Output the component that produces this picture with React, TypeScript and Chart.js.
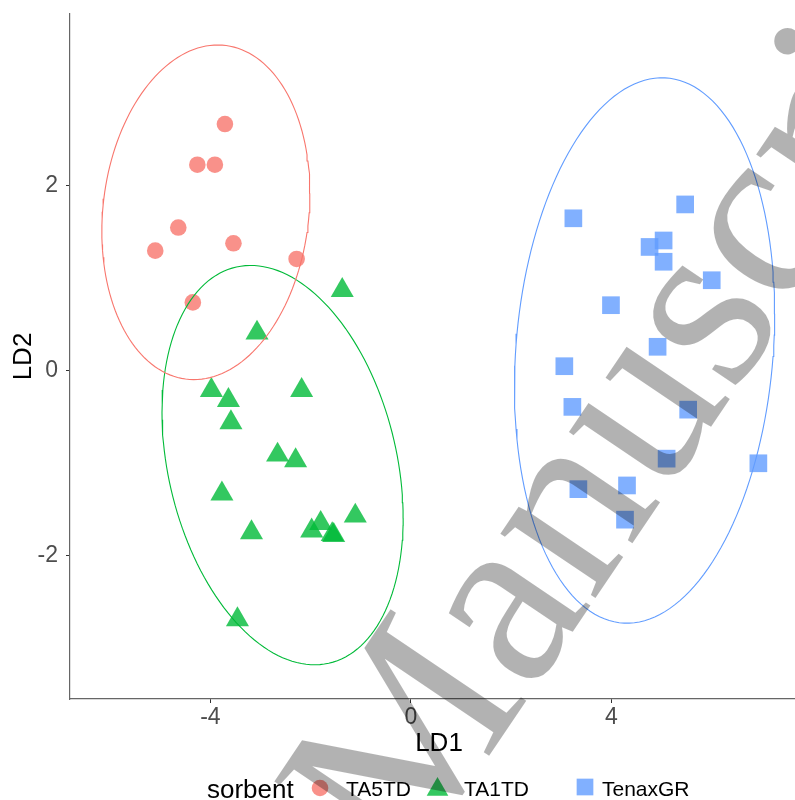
import React, { useEffect, useRef } from 'react';
import { Chart, registerables } from 'chart.js';
import { drawPoint } from 'chart.js/helpers';

Chart.register(...registerables);

// ---------- data ----------
const groupNames = ['TA5TD', 'TA1TD', 'TenaxGR'];
const groupColors = ['#F8766D', '#00BA38', '#619CFF'];
const groupFills = ['rgba(248,118,109,0.8)', 'rgba(0,186,56,0.8)', 'rgba(97,156,255,0.8)'];

const ta5tdX = [-3.71, -4.26, -3.91, -4.64, -5.10, -3.54, -2.28, -4.35];
const ta5tdY = [2.67, 2.23, 2.23, 1.55, 1.30, 1.38, 1.21, 0.74];

const ta1tdX = [-1.37, -3.07, -3.98, -3.64, -2.18, -3.59, -2.66, -2.30, -3.77, -1.11, -3.18, -1.98, -1.80, -1.57, -1.54, -3.46];
const ta1tdY = [0.87, 0.41, -0.21, -0.32, -0.21, -0.56, -0.91, -0.97, -1.33, -1.57, -1.75, -1.73, -1.65, -1.77, -1.78, -2.69];

const tenaxX = [3.24, 5.47, 4.76, 5.04, 5.04, 6.00, 3.99, 4.92, 3.06, 3.22, 5.53, 5.10, 6.93, 3.34, 4.31, 4.27];
const tenaxY = [1.65, 1.80, 1.34, 1.41, 1.18, 0.98, 0.71, 0.26, 0.05, -0.39, -0.42, -0.95, -1.00, -1.28, -1.24, -1.61];

// 95% ellipse parameters (center, half-extent in x, half-extent in y, covariance term)
const ellipseCx = [-4.09, -2.56, 4.66];
const ellipseCy = [1.715, -1.02, 0.22];
const ellipseSx = [2.075, 2.405, 2.595];
const ellipseSy = [1.81, 2.16, 2.95];
const ellipseCxy = [0.43, -1.375, 1.03];

const xTicks = [-4, 0, 4];
const yTicks = [-2, 0, 2];
const xRange = [-6.8, 7.92];
const yRange = [-3.55, 3.86];

const pointStyles = ['circle', 'triangle', 'rect'];
const pointRadii = [8.3, 13.3, 12.5];
const legendTitle = 'sorbent';
const watermarkText = 'Manuscript';

function ellipsePoints(i: number) {
  const mxx = ellipseSx[i] * ellipseSx[i];
  const myy = ellipseSy[i] * ellipseSy[i];
  const mxy = ellipseCxy[i];
  const l11 = Math.sqrt(mxx);
  const l21 = mxy / l11;
  const l22 = Math.sqrt(myy - l21 * l21);
  const pts: { x: number; y: number }[] = [];
  const n = 160;
  for (let k = 0; k <= n; k++) {
    const t = (2 * Math.PI * k) / n;
    const c = Math.cos(t);
    const s = Math.sin(t);
    pts.push({ x: ellipseCx[i] + l11 * c, y: ellipseCy[i] + l21 * c + l22 * s });
  }
  return pts;
}

const zip = (xs: number[], ys: number[]) => xs.map((x, i) => ({ x, y: ys[i] }));

const SANS = "'Liberation Sans', Arial, sans-serif";

const overlayPlugin = {
  id: 'ggOverlay',
  afterDraw(chart: any) {
    const ctx = chart.ctx as CanvasRenderingContext2D;
    // legend
    ctx.save();
    ctx.fillStyle = '#000';
    ctx.textBaseline = 'alphabetic';
    ctx.textAlign = 'left';
    ctx.font = `26px ${SANS}`;
    ctx.fillText(legendTitle, 207, 798);
    const keyX = [320, 437.5, 585];
    const keyY = [788, 789.5, 787];
    const keyR = [8.3, 12.5, 11.8];
    const labelX = [346, 464, 602];
    ctx.font = `21px ${SANS}`;
    groupNames.forEach((name, i) => {
      ctx.fillStyle = groupFills[i];
      drawPoint(ctx, { pointStyle: pointStyles[i] as any, radius: keyR[i], rotation: 0, borderWidth: 0 }, keyX[i], keyY[i]);
      ctx.fillStyle = '#000';
      ctx.fillText(name, labelX[i], 796);
    });
    ctx.restore();

    // watermark
    ctx.save();
    ctx.translate(406, 879);
    ctx.rotate((-56 * Math.PI) / 180);
    ctx.font = "250px 'Liberation Serif', 'Times New Roman', serif";
    ctx.fillStyle = 'rgba(0,0,0,0.3)';
    ctx.textBaseline = 'alphabetic';
    ctx.textAlign = 'left';
    ctx.fillText(watermarkText, 0, 0);
    ctx.restore();
  },
};

export default function App() {
  const ref = useRef<HTMLCanvasElement | null>(null);

  useEffect(() => {
    if (!ref.current) return;
    const scatterSets = [zip(ta5tdX, ta5tdY), zip(ta1tdX, ta1tdY), zip(tenaxX, tenaxY)];
    const datasets: any[] = [];
    groupNames.forEach((name, i) => {
      datasets.push({
        label: name + ' ellipse',
        data: ellipsePoints(i),
        showLine: true,
        pointRadius: 0,
        borderColor: groupColors[i],
        borderWidth: 1.1,
        fill: false,
        tension: 0,
        order: -1,
      });
    });
    groupNames.forEach((name, i) => {
      datasets.push({
        label: name,
        data: scatterSets[i],
        pointStyle: pointStyles[i],
        pointRadius: pointRadii[i],
        pointBackgroundColor: groupFills[i],
        pointBorderWidth: 0,
        pointBorderColor: 'rgba(0,0,0,0)',
        showLine: false,
        order: i,
      });
    });

    const tickFont = { family: SANS, size: 23, lineHeight: 1 };
    const titleFont = { family: SANS, size: 26, lineHeight: 1 };

    const chart = new Chart(ref.current, {
      type: 'scatter',
      data: { datasets },
      options: {
        animation: false,
        responsive: false,
        devicePixelRatio: 1,
        layout: { padding: { top: 14, right: 22, bottom: 31, left: 0 } },
        plugins: { legend: { display: false }, tooltip: { enabled: false } },
        scales: {
          x: {
            type: 'linear',
            min: xRange[0],
            max: xRange[1],
            afterBuildTicks: (axis: any) => {
              axis.ticks = xTicks.map((v) => ({ value: v }));
            },
            afterFit: (s: any) => {
              s.height = 70;
              s.paddingLeft = 0;
              s.paddingRight = 0;
            },
            ticks: { font: tickFont, color: '#4D4D4D', padding: 3, maxRotation: 0 },
            grid: { display: true, drawOnChartArea: false, drawTicks: true, tickLength: 4, color: '#333333' },
            border: { display: true, color: '#666666', width: 1.2 },
            title: { display: true, text: 'LD1', font: titleFont, color: '#000', padding: { top: 0, bottom: 12 } },
          },
          y: {
            type: 'linear',
            min: yRange[0],
            max: yRange[1],
            afterBuildTicks: (axis: any) => {
              axis.ticks = yTicks.map((v) => ({ value: v }));
            },
            afterFit: (s: any) => {
              s.width = 70;
              s.paddingTop = 0;
              s.paddingBottom = 0;
            },
            ticks: { font: tickFont, color: '#4D4D4D', padding: 8 },
            grid: { display: true, drawOnChartArea: false, drawTicks: true, tickLength: 4, color: '#333333' },
            border: { display: true, color: '#666666', width: 1.2 },
            title: { display: true, text: 'LD2', font: titleFont, color: '#000', padding: { top: 11, bottom: 0 } },
          },
        },
      },
      plugins: [overlayPlugin],
    } as any);
    return () => chart.destroy();
  }, []);

  return (
    <div style={{ position: 'fixed', left: 0, top: 0, width: 795, height: 800, overflow: 'hidden', background: '#fff' }}>
      <canvas ref={ref} width={830} height={800} style={{ display: 'block' }} />
    </div>
  );
}
